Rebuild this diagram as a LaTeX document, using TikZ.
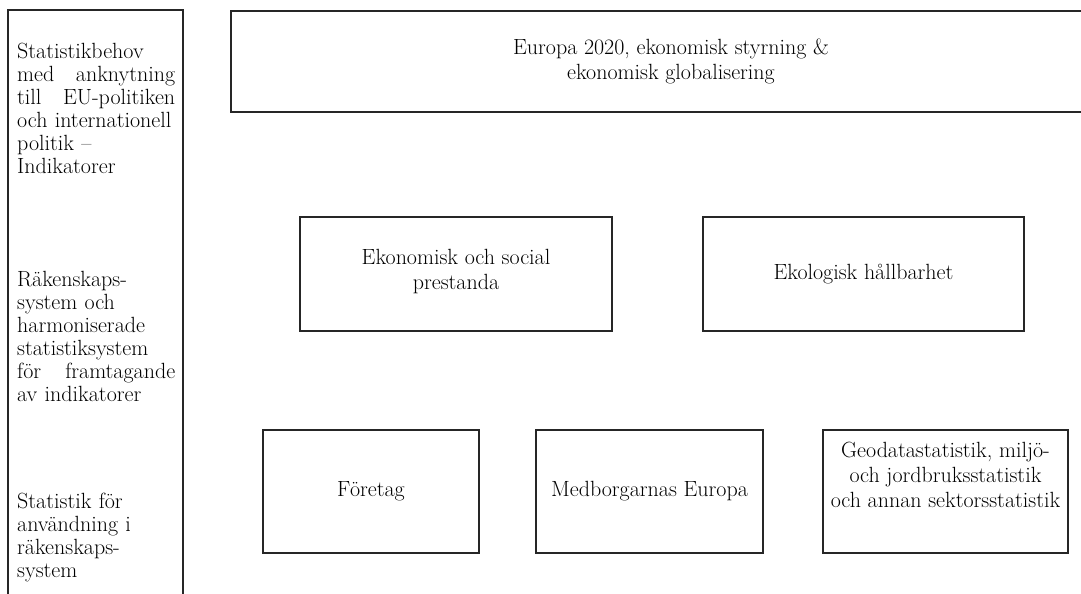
\documentclass[tikz,border=0pt]{standalone}
\usepackage{fontspec}
\usetikzlibrary{positioning}
\tikzset{
  ruta/.style={draw=black!85,line width=1.4pt,align=center,inner sep=0pt,font=\fontsize{22}{25}\selectfont},
  kol/.style={anchor=north west,inner sep=0pt,text width=158pt,align=left,font=\fontsize{22}{23}\selectfont},
  ram/.style={draw=black!85,line width=1.4pt},
}

\begin{document}
\begin{tikzpicture}[x=1pt,y=-1pt]
  \useasboundingbox (0,0) rectangle (1081,594);
  \draw[ram] (8,600) -- (8,10) -- (183,10) -- (183,600);
  \node[kol] (niva1) at (17,43) {Statistikbehov\\ med\hfill anknytning\\ till\hfill EU-politiken\\ och internationell\\ politik --\\ Indikatorer};
  \node[kol] (niva2) at (17,271) {Räkenskaps-\\ system och\\ harmoniserade\\ statistiksystem\\ för\hfill framtagande\\ av indikatorer};
  \node[kol] (niva3) at (17,493) {Statistik för\\ användning i\\ räkenskaps-\\ system};
  \node[ruta,minimum width=880pt,minimum height=101pt] (eu) at (671,61.5) {Europa 2020, ekonomisk styrning \&\\ ekonomisk globalisering};
  \node[ruta,minimum width=312pt,minimum height=114pt,text depth=9pt] (social) at (456,274) {Ekonomisk och social\\ prestanda};
  \node[ruta,minimum width=321pt,minimum height=114pt] (ekologi) at (863.5,274) {Ekologisk hållbarhet};
  \node[ruta,minimum width=216pt,minimum height=123pt] (foretag) at (371,491.5) {Företag};
  \node[ruta,minimum width=227pt,minimum height=123pt] (medborg) at (649.5,491.5) {Medborgarnas Europa};
  \node[ruta,minimum width=245pt,minimum height=123pt,text depth=33pt] (geodata) at (945.5,491.5) {Geodatastatistik, miljö-\\ och jordbruksstatistik\\ och annan sektorsstatistik};
\end{tikzpicture}
\end{document}
